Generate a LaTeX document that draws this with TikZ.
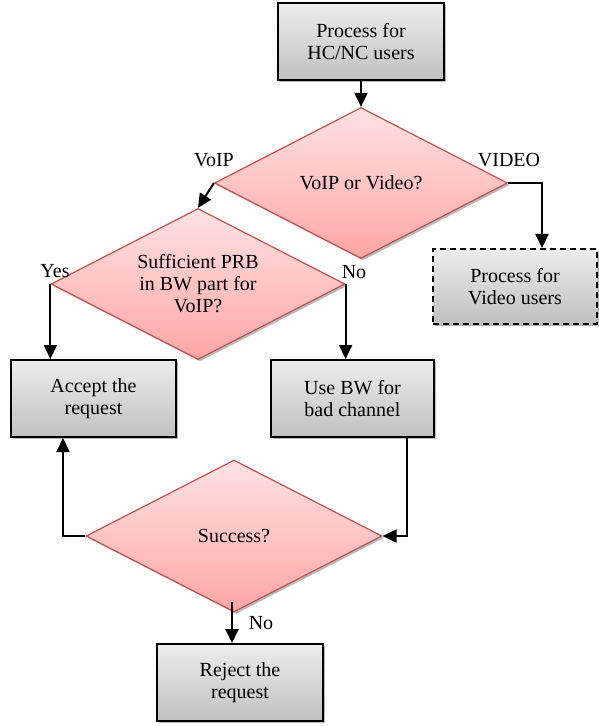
\documentclass[tikz,border=0pt]{standalone}
\usepackage{fontspec}
\setmainfont{Liberation Serif}
\usetikzlibrary{shapes.geometric,arrows.meta,shadows}
\definecolor{dborder}{HTML}{C0504D}
\definecolor{dtop}{HTML}{FFE2E3}
\definecolor{dbot}{HTML}{FFA6A5}
\definecolor{btop}{HTML}{EDEDED}
\definecolor{bbot}{HTML}{C0C0C0}
\begin{document}
\begin{tikzpicture}[x=0.5pt,y=-0.5pt,
  font=\fontsize{10pt}{11pt}\selectfont,
  procbox/.style={rectangle,draw=black,line width=1pt,top color=btop,bottom color=bbot,
    align=center,inner sep=0pt,
    drop shadow={shadow xshift=1pt,shadow yshift=-1pt,fill=black!45,opacity=0.6}},
  decision/.style={diamond,aspect=1.94,draw=dborder,line width=0.6pt,top color=dtop,bottom color=dbot,
    align=center,inner sep=0pt,
    drop shadow={shadow xshift=1pt,shadow yshift=-1pt,fill=black!45,opacity=0.6}},
  conn/.style={line width=1pt,-{Triangle[length=7pt,width=6.5pt]}},
  lbl/.style={inner sep=0pt}]
\useasboundingbox (0,0) rectangle (598,726);

\node[procbox,minimum width=83pt,minimum height=38.5pt] (top) at (361,41.5) {Process for\\HC/NC users};
\node[decision,minimum width=146.5pt,minimum height=75.5pt] (d1) at (361,183) {VoIP or Video?};
\node[decision,minimum width=147pt,minimum height=75.5pt] (d2) at (198,284) {Sufficient PRB\\in BW part for\\VoIP?};
\node[procbox,minimum width=82pt,minimum height=37.5pt,dashed,dash pattern=on 3pt off 2pt] (video) at (515,286.5) {Process for\\Video users};
\node[procbox,minimum width=82.5pt,minimum height=38.5pt] (accept) at (93.5,398.5) {Accept the\\request};
\node[procbox,minimum width=81.5pt,minimum height=38.5pt] (usebw) at (352.5,398.5) {Use BW for\\bad channel};
\node[decision,minimum width=148pt,minimum height=76pt] (succ) at (234,536) {Success?};
\node[procbox,minimum width=83pt,minimum height=38.5pt] (reject) at (240,682.5) {Reject the\\request};

\coordinate (vx) at (542,0);
\coordinate (lx) at (63,0);
\coordinate (rx) at (407,0);
\coordinate (sx) at (232,602);

\draw[conn] (top.south) -- (d1.north);
\draw[conn] (d1.west) -- (d2.north);
\draw[conn] (d1.east) -| (video.north -| vx);
\draw[conn] (d2.west) -- (d2.west |- accept.north);
\draw[conn] (d2.east) -- (d2.east |- usebw.north);
\draw[conn] (succ.west) -| (accept.south -| lx);
\draw[conn] (usebw.south -| rx) |- (succ.east);
\draw[conn] (sx) -- (sx |- reject.north);

\node[lbl] (lvoip) at (214,160) {VoIP};
\node[lbl] (lvideo) at (509,160) {VIDEO};
\node[lbl] (lyes) at (55,271) {Yes};
\node[lbl] (lno1) at (354,272) {No};
\node[lbl] (lno2) at (261,623) {No};
\end{tikzpicture}
\end{document}
